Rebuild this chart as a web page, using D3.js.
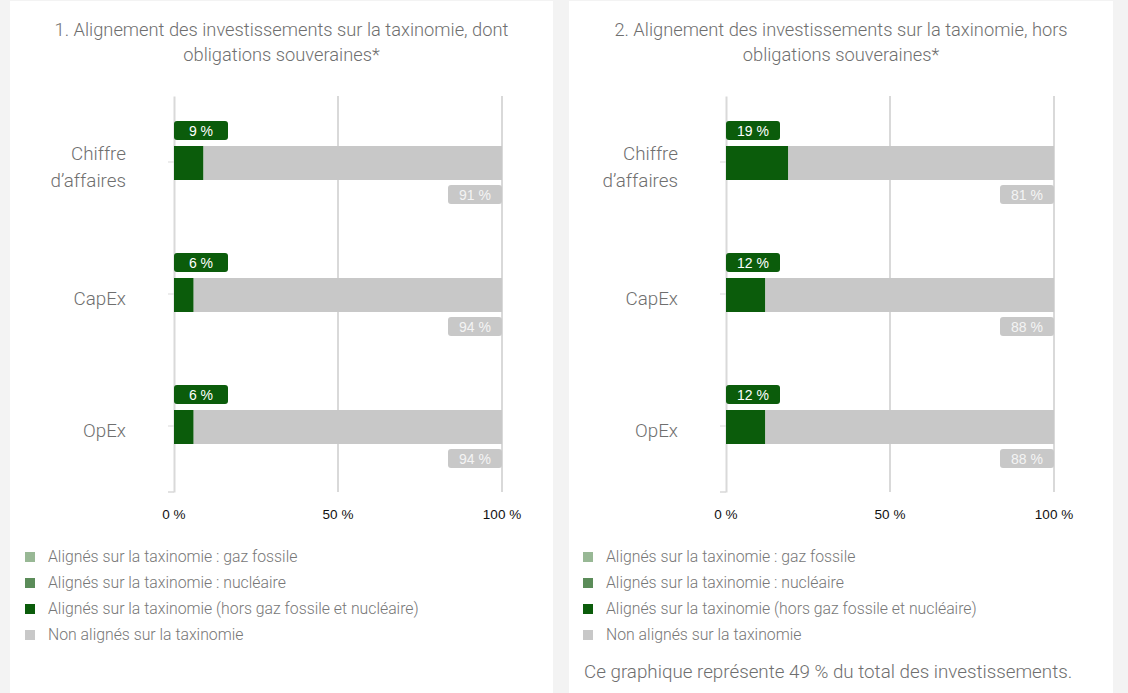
<!DOCTYPE html>
<html>
<head>
<meta charset="utf-8">
<script src="https://cdn.jsdelivr.net/npm/d3@7"></script>
<style>
  body { margin: 0; background: #f3f3f3; }
  svg { display: block; }
  .cond { font-family: "Liberation Sans Narrow", "Roboto", sans-serif; font-weight: 300; }
  .tick-lbl { font-family: "Liberation Sans", "Carlito", sans-serif; }
</style>
</head>
<body>
<div id="chart"></div>
<script>
// data
const categories = ["Chiffre d’affaires", "CapEx", "OpEx"];
const categoryLines = [["Chiffre", "d’affaires"], ["CapEx"], ["OpEx"]];

const gaz1 = [0, 0, 0];
const nucleaire1 = [0, 0, 0];
const alignes1 = [9, 6, 6];
const nonAlignes1 = [91, 94, 94];

const gaz2 = [0, 0, 0];
const nucleaire2 = [0, 0, 0];
const alignes2 = [19, 12, 12];
const nonAlignes2 = [81, 88, 88];

const xTicks = [0, 50, 100];

const legendLabels = [
  "Alignés sur la taxinomie : gaz fossile",
  "Alignés sur la taxinomie : nucléaire",
  "Alignés sur la taxinomie (hors gaz fossile et nucléaire)",
  "Non alignés sur la taxinomie"
];
const legendColors = ["#98b895", "#5b8c59", "#0b5c0b", "#c8c8c8"];

const titles = [
  ["1. Alignement des investissements sur la taxinomie, dont", "obligations souveraines*"],
  ["2. Alignement des investissements sur la taxinomie, hors", "obligations souveraines*"]
];
const note = "Ce graphique représente 49 % du total des investissements.";

const width = 1128, height = 693;

const svg = d3.select("#chart")
  .append("svg")
  .attr("width", width)
  .attr("height", height);

svg.append("rect")
  .attr("width", width)
  .attr("height", height)
  .attr("fill", "#f3f3f3");

function drawPanel(px, panelW, plotLeft, legendLeft, title, series, showNote) {
  const g = svg.append("g").attr("transform", "translate(" + px + ",1)");

  g.append("rect")
    .attr("width", panelW)
    .attr("height", height)
    .attr("fill", "#ffffff");

  // title
  g.append("text")
    .attr("class", "cond")
    .attr("x", panelW / 2)
    .attr("y", 35)
    .attr("text-anchor", "middle")
    .attr("fill", "#6f6f6f")
    .style("font-size", "18.3px")
    .selectAll("tspan")
    .data(title)
    .join("tspan")
    .attr("x", panelW / 2)
    .attr("dy", (d, i) => i === 0 ? 0 : 25)
    .text(d => d);

  // scales
  const x = d3.scaleLinear().domain([0, 100]).range([plotLeft, plotLeft + 328]);
  const y = d3.scaleBand().domain(categories).range([95, 491]);

  // gridlines
  g.append("g")
    .selectAll("line")
    .data(xTicks.slice(1))
    .join("line")
    .attr("x1", d => x(d))
    .attr("x2", d => x(d))
    .attr("y1", 95)
    .attr("y2", 491)
    .attr("stroke", "#d9d9d9")
    .attr("stroke-width", 2);

  // y axis
  const yAxis = d3.axisLeft(y).tickSize(6).tickSizeOuter(0).tickFormat("");
  const yG = g.append("g")
    .attr("transform", "translate(" + x(0) + ",0)")
    .call(yAxis);
  yG.select(".domain").attr("stroke", "#d9d9d9").attr("stroke-width", 2);
  yG.selectAll(".tick line").attr("stroke", "#d9d9d9").attr("stroke-width", 1);
  g.append("line")
    .attr("x1", x(0) - 6).attr("x2", x(0))
    .attr("y1", 491).attr("y2", 491)
    .attr("stroke", "#d9d9d9").attr("stroke-width", 1.5);

  // category labels
  categories.forEach((c, i) => {
    const lines = categoryLines[i];
    const cy = y(c) + y.bandwidth() / 2;
    g.append("text")
      .attr("class", "cond")
      .attr("text-anchor", "end")
      .attr("fill", "#6f6f6f")
      .style("font-size", "18.8px")
      .selectAll("tspan")
      .data(lines)
      .join("tspan")
      .attr("x", x(0) - 48)
      .attr("y", (d, j) => cy + 11 + (j - (lines.length - 1) / 2) * 27)
      .text(d => d);
  });

  // stacked bars
  const barH = 34;
  const keys = ["gaz", "nucleaire", "alignes", "nonAlignes"];
  const rows = categories.map((c, i) => ({
    cat: c,
    gaz: series[0][i],
    nucleaire: series[1][i],
    alignes: series[2][i],
    nonAlignes: series[3][i]
  }));
  const stacked = d3.stack().keys(keys)(rows);

  g.append("g")
    .selectAll("g")
    .data(stacked)
    .join("g")
    .attr("fill", (d, i) => legendColors[i])
    .selectAll("rect")
    .data(d => d)
    .join("rect")
    .attr("x", d => x(d[0]))
    .attr("y", d => y(d.data.cat) + y.bandwidth() / 2 - barH / 2 + 1)
    .attr("width", d => x(d[1]) - x(d[0]))
    .attr("height", barH);

  // value labels
  const boxW = 54, boxH = 19;
  rows.forEach(r => {
    const cy = y(r.cat) + y.bandwidth() / 2 + 1;
    // aligned label above bar
    g.append("rect")
      .attr("x", x(0))
      .attr("y", cy - barH / 2 - 6 - boxH)
      .attr("width", boxW)
      .attr("height", boxH)
      .attr("rx", 3)
      .attr("fill", legendColors[2]);
    g.append("text")
      .attr("class", "tick-lbl")
      .attr("x", x(0) + boxW / 2)
      .attr("y", cy - barH / 2 - 6 - boxH / 2 + 5)
      .attr("text-anchor", "middle")
      .attr("fill", "#ffffff")
      .style("font-size", "14px")
      .text(r.alignes + " %");
    // non aligned label below bar, at right end
    g.append("rect")
      .attr("x", x(100) - boxW)
      .attr("y", cy + barH / 2 + 5)
      .attr("width", boxW)
      .attr("height", boxH)
      .attr("rx", 3)
      .attr("fill", legendColors[3]);
    g.append("text")
      .attr("class", "tick-lbl")
      .attr("x", x(100) - boxW / 2)
      .attr("y", cy + barH / 2 + 5 + boxH / 2 + 5)
      .attr("text-anchor", "middle")
      .attr("fill", "#f4f4f4")
      .style("font-size", "14px")
      .text(r.nonAlignes + " %");
  });

  // x tick labels
  g.append("g")
    .selectAll("text")
    .data(xTicks)
    .join("text")
    .attr("class", "tick-lbl")
    .attr("x", d => x(d))
    .attr("y", 518)
    .attr("text-anchor", "middle")
    .attr("fill", "#111111")
    .style("font-size", "13.5px")
    .text(d => d + " %");

  // legend
  const leg = g.append("g").attr("transform", "translate(" + legendLeft + ",551)");
  leg.selectAll("rect")
    .data(legendLabels)
    .join("rect")
    .attr("x", 0)
    .attr("y", (d, i) => i * 26)
    .attr("width", 10)
    .attr("height", 10)
    .attr("fill", (d, i) => legendColors[i]);
  leg.selectAll("text")
    .data(legendLabels)
    .join("text")
    .attr("class", "cond")
    .attr("x", 23)
    .attr("y", (d, i) => i * 26 + 10)
    .attr("fill", "#777777")
    .style("font-size", "15.8px")
    .text(d => d);

  if (showNote) {
    g.append("text")
      .attr("class", "cond")
      .attr("x", 15)
      .attr("y", 677)
      .attr("fill", "#6f6f6f")
      .style("font-size", "18.8px")
      .text(note);
  }
}

drawPanel(10, 543, 164, 15, titles[0], [gaz1, nucleaire1, alignes1, nonAlignes1], false);
drawPanel(569, 544, 157, 14, titles[1], [gaz2, nucleaire2, alignes2, nonAlignes2], true);
</script>
</body>
</html>
